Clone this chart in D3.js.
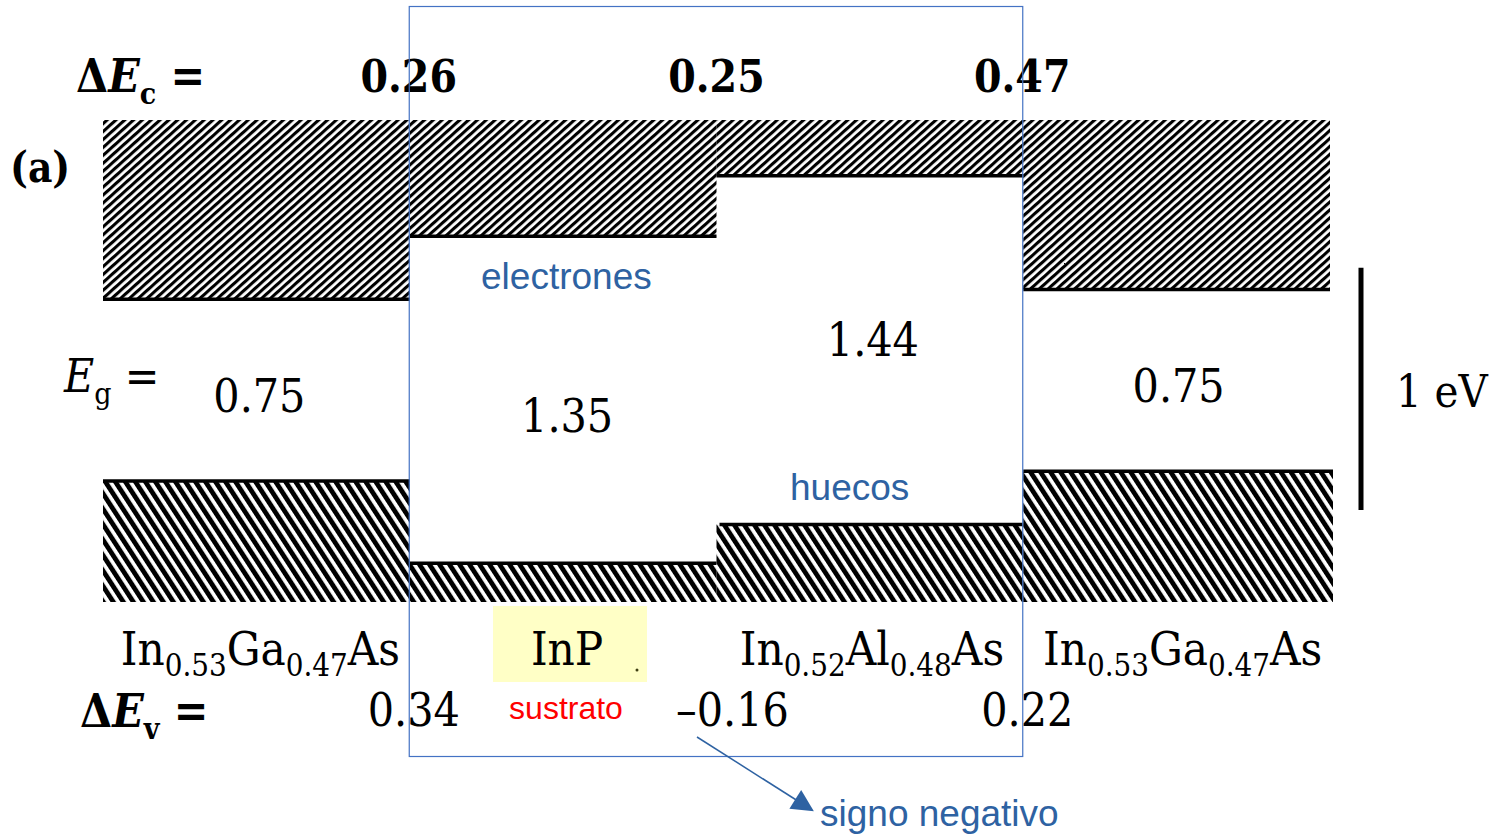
<!DOCTYPE html>
<meta charset="utf-8">
<style>
body { margin: 0; background: #fff; }
.serif { font-family: "DejaVu Serif Condensed", "DejaVu Serif", serif; fill: #000; }
.sans { font-family: "Liberation Sans", Arial, sans-serif; }
</style>
<svg width="1499" height="835"></svg>
<script src="https://d3js.org/d3.v7.min.js"></script>
<script>

// layers from left to right
var layers = ["In0.53Ga0.47As", "InP", "In0.52Al0.48As", "In0.53Ga0.47As"];
var gaps = [0.75, 1.35, 1.44, 0.75];        // Eg (eV)
var dEc = [0.26, 0.25, 0.47];               // conduction band offsets
var dEv = ["0.34", "\u20130.16", "0.22"];   // valence band offsets as printed
var notes = ["electrones", "huecos", "sustrato", "signo negativo"];

var svg = d3.select("svg"),
    width = +svg.attr("width"),
    height = +svg.attr("height");

svg.append("rect").attr("width", width).attr("height", height).attr("fill", "#fff");

// band edges, Ev of first InGaAs = 0
var Ec = [gaps[0]];
for (var i = 0; i < dEc.length; i++) {
  Ec.push(Ec[i] + (gaps[i + 1] > gaps[i] ? dEc[i] : -dEc[i]));
}
var Ev = Ec.map(function(e, i) { return e - gaps[i]; });

var x = d3.scaleLinear().domain([0, layers.length]).range([103, 1330]);
var y = d3.scaleLinear().domain([-0.5, 1.49]).range([602, 120]);

var defs = svg.append("defs");
function hatch(id, angle, gap, w) {
  var p = defs.append("pattern")
    .attr("id", id)
    .attr("patternUnits", "userSpaceOnUse")
    .attr("width", gap).attr("height", gap)
    .attr("patternTransform", "rotate(" + angle + ")");
  p.append("rect").attr("width", w).attr("height", gap).attr("fill", "#000");
}
hatch("hc", 48, 5.9, 3.1);
hatch("hv", -33, 8.4, 4.8);

var idx = d3.range(layers.length);

// conduction band (hatched above Ec)
svg.append("g").selectAll("rect")
  .data(idx).enter().append("rect")
  .attr("x", function(d) { return x(d); })
  .attr("width", function(d) { return x(d + 1) - x(d); })
  .attr("y", y(1.49))
  .attr("height", function(d) { return y(Ec[d]) - y(1.49); })
  .attr("fill", "url(#hc)");

// valence band (hatched below Ev)
svg.append("g").selectAll("rect")
  .data(idx).enter().append("rect")
  .attr("x", function(d) { return x(d); })
  .attr("width", function(d) { return x(d + 1) - x(d) + (d == 3 ? 3 : 0); })
  .attr("y", function(d) { return y(Ev[d]); })
  .attr("height", function(d) { return y(-0.5) - y(Ev[d]); })
  .attr("fill", "url(#hv)");

// band edge lines
var edges = svg.append("g").attr("stroke", "#000").attr("stroke-width", 3.5);
idx.forEach(function(d) {
  edges.append("line").attr("x1", x(d)).attr("x2", x(d + 1))
    .attr("y1", y(Ec[d])).attr("y2", y(Ec[d]));
  edges.append("line").attr("x1", x(d) + (d == 2 ? 3 : 0)).attr("x2", x(d + 1) + (d == 3 ? 3 : 0))
    .attr("y1", y(Ev[d])).attr("y2", y(Ev[d]));
});

// 1 eV scale bar
svg.append("line")
  .attr("x1", 1361).attr("x2", 1361)
  .attr("y1", y(0.88)).attr("y2", y(-0.12))
  .attr("stroke", "#000").attr("stroke-width", 5);
svg.append("text").attr("class", "serif")
  .attr("x", 1396).attr("y", 407)
  .attr("font-size", 45).text("1 eV");

// left captions
svg.append("text").attr("class", "serif")
  .attr("x", 10).attr("y", 182).attr("font-size", 42).attr("font-weight", "bold")
  .text("(a)");

function caption(xp, yp, sub, bold) {
  var t = svg.append("text").attr("class", "serif")
    .attr("x", xp).attr("y", yp).attr("font-size", 46)
    .attr("font-weight", bold ? "bold" : "normal");
  if (sub != "g") t.append("tspan").text("\u0394");
  t.append("tspan").attr("font-style", "italic").text("E");
  t.append("tspan").attr("font-size", 30).attr("dy", 12).text(sub);
  t.append("tspan").attr("dy", -12).text(" =");
}
caption(76, 92, "c", true);
caption(64, 392, "g", false);
caption(80, 727, "v", true);

// conduction offsets at interfaces
svg.append("g").selectAll("text")
  .data(dEc).enter().append("text")
  .attr("class", "serif")
  .attr("x", function(d, i) { return x(i + 1) + [-1, 0, -1][i]; })
  .attr("y", 92)
  .attr("text-anchor", "middle")
  .attr("font-size", 44).attr("font-weight", "bold")
  .text(function(d) { return d.toFixed(2); });

// valence offsets at interfaces
svg.append("g").selectAll("text")
  .data(dEv).enter().append("text")
  .attr("class", "serif")
  .attr("x", function(d, i) { return x(i + 1) + [4, 16, 4][i]; })
  .attr("y", 726)
  .attr("text-anchor", "middle")
  .attr("font-size", 46)
  .text(function(d) { return d; });

// band gap values
var gapDx = [3, 4, 3, 2], gapDy = [22, 32, 6, 22];
svg.append("g").selectAll("text")
  .data(gaps).enter().append("text")
  .attr("class", "serif")
  .attr("x", function(d, i) { return (x(i) + x(i + 1)) / 2 + gapDx[i]; })
  .attr("y", function(d, i) { return y((Ec[i] + Ev[i]) / 2) + gapDy[i]; })
  .attr("text-anchor", "middle")
  .attr("font-size", 46)
  .text(function(d) { return d.toFixed(2); });

// substrate highlight
svg.append("rect")
  .attr("x", 493).attr("y", 606).attr("width", 154).attr("height", 76)
  .attr("fill", "#ffffc6");

// material names with subscripts
var nameDx = [4, 4, 2, 6];
svg.append("g").selectAll("text")
  .data(layers).enter().append("text")
  .attr("class", "serif")
  .attr("x", function(d, i) { return (x(i) + x(i + 1)) / 2 + nameDx[i]; })
  .attr("y", 665)
  .attr("text-anchor", "middle")
  .attr("font-size", 47)
  .attr("fill", function(d, i) { return i == 1 ? "#3f3f12" : "#000"; })
  .each(function(d) {
    var t = d3.select(this), m, re = /([A-Z][a-z]?)([0-9.]*)/g, down = false;
    while ((m = re.exec(d)) !== null) {
      t.append("tspan").attr("dy", down ? -11 : null).text(m[1]);
      down = false;
      if (m[2]) {
        t.append("tspan").attr("font-size", 31).attr("dy", 11).text(m[2]);
        down = true;
      }
    }
  });
svg.append("circle").attr("cx", 637).attr("cy", 670).attr("r", 1.5).attr("fill", "#3f3f12");

// outline of the InP / InAlAs part
svg.append("rect")
  .attr("x", x(1) - 0.5).attr("y", 6.5)
  .attr("width", x(3) - x(1)).attr("height", 750)
  .attr("fill", "none").attr("stroke", "#4472c4").attr("stroke-width", 1.2);

// annotations
var blue = "#2e62a2";
svg.append("text").attr("class", "sans").attr("x", 481).attr("y", 289)
  .attr("font-size", 37).attr("fill", blue).text(notes[0]);
svg.append("text").attr("class", "sans").attr("x", 790).attr("y", 500)
  .attr("font-size", 37).attr("fill", blue).text(notes[1]);
svg.append("text").attr("class", "sans").attr("x", 566).attr("y", 719)
  .attr("text-anchor", "middle")
  .attr("font-size", 32).attr("fill", "#ff0000").text(notes[2]);
svg.append("text").attr("class", "sans").attr("x", 820).attr("y", 826)
  .attr("font-size", 37).attr("fill", blue).text(notes[3]);

defs.append("marker")
  .attr("id", "arr")
  .attr("viewBox", "0 0 10 10")
  .attr("refX", 9).attr("refY", 5)
  .attr("markerWidth", 26).attr("markerHeight", 22)
  .attr("markerUnits", "userSpaceOnUse")
  .attr("orient", "auto")
  .append("path").attr("d", "M0,0L10,5L0,10Z").attr("fill", blue);
svg.append("line")
  .attr("x1", 697).attr("y1", 737).attr("x2", 812).attr("y2", 810)
  .attr("stroke", blue).attr("stroke-width", 1.5)
  .attr("marker-end", "url(#arr)");

</script>
